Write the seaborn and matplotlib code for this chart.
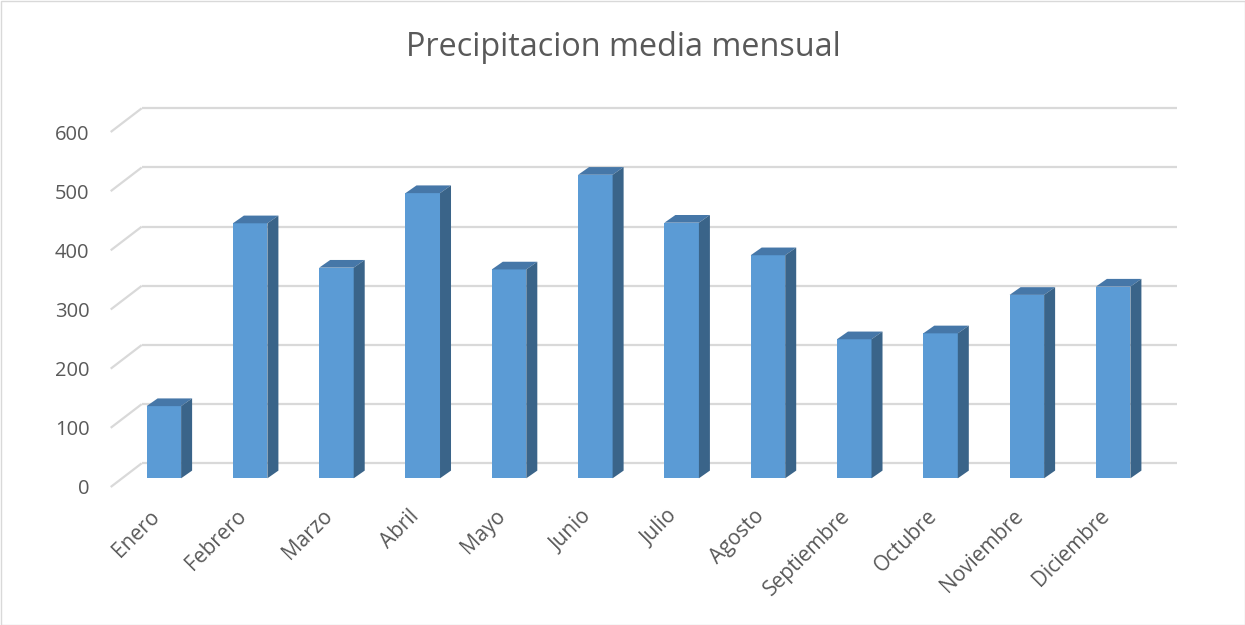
import matplotlib
matplotlib.use("Agg")
import matplotlib.pyplot as plt
from matplotlib.patches import Polygon, Rectangle
from matplotlib.transforms import ScaledTranslation
import pandas as pd
import seaborn as sns

# Monthly mean rainfall (mm)
meses = ["Enero", "Febrero", "Marzo", "Abril", "Mayo", "Junio",
         "Julio", "Agosto", "Septiembre", "Octubre", "Noviembre", "Diciembre"]
precipitacion = [122, 431, 356, 482, 353, 513, 432, 377, 235, 245, 310, 324]
ticks_y = [0, 100, 200, 300, 400, 500, 600]
titulo = "Precipitacion media mensual"

sns.set_theme(style="white")
plt.rcParams["font.family"] = ["Open Sans", "DejaVu Sans"]

TEXT = "#595959"
GRID = "#D9D9D9"
FRONT = "#5B9BD5"
TOP = "#4677A8"
SIDE = "#3A6489"

W, H, DPI = 1245, 625, 100
fig = plt.figure(figsize=(W / DPI, H / DPI), dpi=DPI)
fig.patch.set_facecolor("white")

# axes = front edge of the chart floor (pixel geometry of the plot area)
x0, x1 = 110.7, 1146.3
y0, y600 = 487.0, 132.0
ax = fig.add_axes([x0 / W, (H - y0) / H, (x1 - x0) / W, (y0 - y600) / H])
ax.set_xlim(-0.5, 11.5)
ax.set_ylim(0, 600)

sx = (x1 - x0) / 12.0      # pixels per category
sy = (y0 - y600) / 600.0   # pixels per mm


def px(dx, dy):
    """Pixel offset -> data offset."""
    return dx / sx, dy / sy


fdx, fdy = px(31, 23.7)   # depth of the floor (front edge -> back wall)
bdx, bdy = px(10, 8.7)    # front of the columns behind the floor edge
ddx, ddy = px(11, 7.7)    # depth of each column

# back wall gridlines and their slanted continuation on the side wall
for v in ticks_y:
    ax.plot([-0.5 + fdx, 11.5 + fdx], [v + fdy, v + fdy], color=GRID, lw=1.6,
            clip_on=False, zorder=0, solid_capstyle="butt")
    ax.plot([-0.5, -0.5 + fdx], [v, v + fdy], color=GRID, lw=1.6,
            clip_on=False, zorder=0, solid_capstyle="butt")

df = pd.DataFrame({"mes": meses, "mm": precipitacion})
sns.barplot(data=df, x="mes", y="mm", color=FRONT, saturation=1, width=0.4,
            linewidth=0, ax=ax, zorder=3)

# turn the flat columns into prisms: shift the front face back, add top and side
for p in list(ax.patches):
    p.set_x(p.get_x() + bdx)
    p.set_y(bdy)
    p.set_clip_on(False)
    xl = p.get_x()
    xr = xl + p.get_width()
    b = p.get_y()
    t = b + p.get_height()
    top = Polygon([(xl, t), (xr, t), (xr + ddx, t + ddy), (xl + ddx, t + ddy)],
                  closed=True, facecolor=TOP, edgecolor="none", zorder=3,
                  clip_on=False)
    side = Polygon([(xr, b), (xr + ddx, b + ddy), (xr + ddx, t + ddy), (xr, t)],
                   closed=True, facecolor=SIDE, edgecolor="none", zorder=3,
                   clip_on=False)
    ax.add_patch(top)
    ax.add_patch(side)

for s in ax.spines.values():
    s.set_visible(False)
ax.set_facecolor("none")
ax.grid(False)
ax.set_xlabel("")
ax.set_ylabel("")

ax.set_yticks(ticks_y)
ax.set_yticklabels([str(v) for v in ticks_y])
ax.tick_params(axis="y", length=0, pad=15.4, labelsize=14.5, labelcolor=TEXT)

ax.set_xticks(range(len(meses)))
ax.set_xticklabels(meses, rotation=45, ha="right", va="center",
                   rotation_mode="anchor")
ax.tick_params(axis="x", length=0, pad=19, labelsize=15, labelcolor=TEXT)
# nudge the slanted month labels slightly to the right
shift = ScaledTranslation(3 / DPI, 0, fig.dpi_scale_trans)
for lbl in ax.get_xticklabels():
    lbl.set_transform(lbl.get_transform() + shift)

fig.text(623 / W, 1 - 47 / H, titulo, ha="center", va="center",
         fontsize=23.3, color=TEXT)

fig.add_artist(Rectangle((0.5 / W, 0.5 / H), (W - 1.0) / W, (H - 1.0) / H,
                         transform=fig.transFigure, fill=False,
                         edgecolor=GRID, lw=1))

fig.savefig("out.png", dpi=DPI, facecolor="white")
